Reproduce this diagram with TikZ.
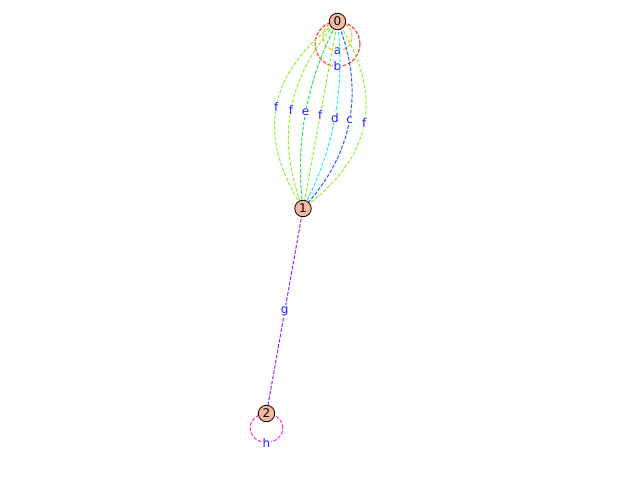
\documentclass[tikz,border=0pt]{standalone}
\usepackage{fontspec}
\setmainfont{DejaVu Sans}
\usepackage{tikz}
\usetikzlibrary{backgrounds}
\definecolor{nodefill}{RGB}{245,183,160}
\definecolor{lblblue}{RGB}{30,30,255}
\definecolor{cola}{RGB}{255,176,32}
\definecolor{colb}{RGB}{255,40,40}
\definecolor{colc}{RGB}{32,96,255}
\definecolor{cold}{RGB}{32,236,240}
\definecolor{cole}{RGB}{32,224,96}
\definecolor{colf}{RGB}{144,240,48}
\definecolor{colg}{RGB}{144,32,255}
\definecolor{colh}{RGB}{255,40,210}
\tikzstyle{vertex} = [circle, draw=black, line width=0.8pt, fill=nodefill, text=black, inner sep=0pt, minimum size=16.5pt, font=\fontsize{12}{14}\selectfont]
\tikzstyle{lbl} = [fill=white, inner sep=1pt, text=lblblue, font=\fontsize{12}{14}\selectfont]
\tikzstyle{dedge} = [draw, line width=1pt, dash pattern=on 3.7pt off 1.6pt]

\begin{document}
\begin{tikzpicture}[x=1pt, y=1pt]
\useasboundingbox (0,0) rectangle (640,480);

% vertices =============================
\node[vertex] (n0) at (337.5,458.5) {0};
\node[vertex] (n1) at (303,271.5) {1};
\node[vertex] (n2) at (266.5,66.5) {2};

\begin{scope}[on background layer]
% self loops
\path[dedge, draw=colb] ([yshift=-22.5pt]n0.center) circle[radius=22.5pt];
\path[dedge, draw=cola] ([yshift=-15pt]n0.center) circle[radius=14.5pt];
\path[dedge, draw=colh] ([yshift=-14.5pt]n2.center) ellipse[x radius=16.3pt, y radius=14.5pt];
\node[lbl] (lb) at ([yshift=-45pt]n0.center) {b};
\node[lbl] (la) at ([yshift=-30pt]n0.center) {a};
\node[lbl] (lh) at ([yshift=-29pt]n2.center) {h};

% edges 0 to 1
\path[dedge, draw=colf] (n0.center) edge[bend right=43.4, looseness=1.17] node[lbl] {f} (n1.center);
\path[dedge, draw=colf] (n0.center) edge[bend right=32.3, looseness=1.0] node[lbl] {f} (n1.center);
\path[dedge, draw=cole] (n0.center) edge[bend right=17.5, looseness=0.89] node[lbl] {e} (n1.center);
\path[dedge, draw=colf] (n0.center) edge node[lbl] {f} (n1.center);
\path[dedge, draw=cold] (n0.center) edge[bend left=17.5, looseness=0.89] node[lbl] {d} (n1.center);
\path[dedge, draw=colc] (n0.center) edge[bend left=32.3, looseness=1.0] node[lbl] {c} (n1.center);
\path[dedge, draw=colf] (n0.center) edge[bend left=43.4, looseness=1.17] node[lbl] {f} (n1.center);

% edge 1 to 2
\path[dedge, draw=colg] (n1.center) edge node[lbl] {g} (n2.center);
\end{scope}

\end{tikzpicture}
\end{document}
